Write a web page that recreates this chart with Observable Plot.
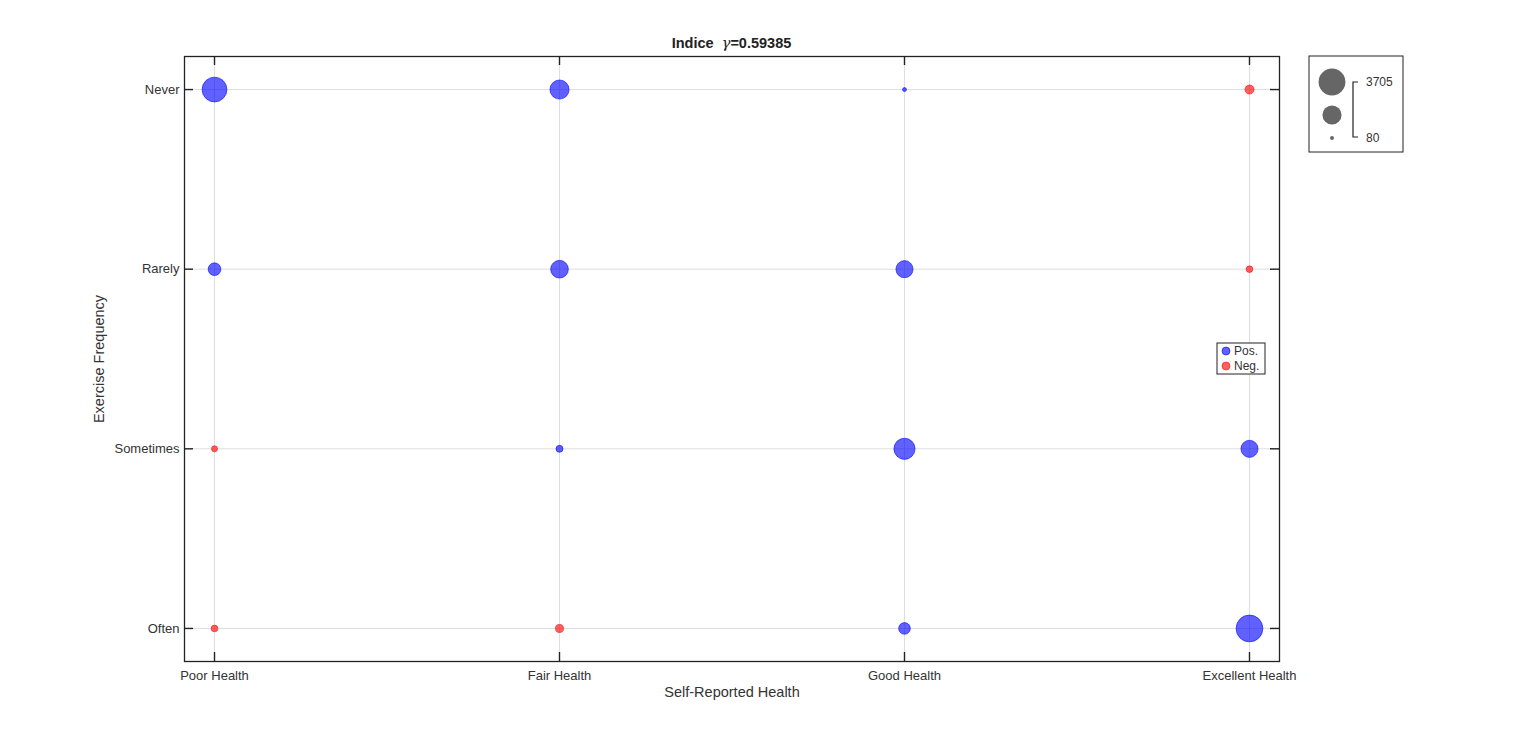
<!DOCTYPE html>
<html>
<head>
<meta charset="utf-8">
<script src="https://cdn.jsdelivr.net/npm/d3@7"></script>
<script src="https://cdn.jsdelivr.net/npm/@observablehq/plot@0.6"></script>
<style>
  html, body { margin: 0; padding: 0; background: #fff; }
  #chart svg { display: block; }
</style>
</head>
<body>
<div id="chart"></div>
<script>
// ---- data ----
const healthCats = ["Poor Health", "Fair Health", "Good Health", "Excellent Health"];
const exerciseCats = ["Never", "Rarely", "Sometimes", "Often"];
// counts, one row per exercise category, columns follow healthCats
const neverCounts     = [3170, 1890,   80,  424];
const rarelyCounts    = [ 831, 1622, 1513,  228];
const sometimesCounts = [ 188,  256, 2309, 1513];
const oftenCounts     = [ 228,  335,  705, 3705];
// sign of residual (Pos./Neg.)
const neverSigns     = ["Pos.", "Pos.", "Pos.", "Neg."];
const rarelySigns    = ["Pos.", "Pos.", "Pos.", "Neg."];
const sometimesSigns = ["Neg.", "Pos.", "Pos.", "Pos."];
const oftenSigns     = ["Neg.", "Neg.", "Pos.", "Pos."];
const legendSizes = [3705, 1892, 80];
const legendSizeLabels = ["3705", "80"];
const signCats = ["Pos.", "Neg."];
const titleText = ["Indice  ", "γ", "=0.59385"];

const rows = [
  [neverCounts, neverSigns],
  [rarelyCounts, rarelySigns],
  [sometimesCounts, sometimesSigns],
  [oftenCounts, oftenSigns]
];
const data = [];
rows.forEach(([counts, signs], i) => {
  counts.forEach((v, j) => data.push({health: healthCats[j], exercise: exerciseCats[i], value: v, sign: signs[j]}));
});

// ---- layout ----
const W = 1536, H = 744;
const mL = 184, mR = 257, mT = 56, mB = 83;
const fh = H - mT - mB;
const fw = W - mL - mR;
const tickLen = 9;
const font = "'Liberation Sans', Arial, Helvetica, sans-serif";
const fillColor = {"Pos.": "#0000ff", "Neg.": "#ff0000"};

const chart = Plot.plot({
  width: W, height: H,
  marginLeft: mL, marginRight: mR, marginTop: mT, marginBottom: mB,
  style: {fontFamily: font, fontSize: "13px", color: "#333", background: "#fff"},
  x: {type: "point", domain: healthCats, padding: 0.087, round: false},
  y: {type: "point", domain: exerciseCats, padding: 0.184, round: false},
  r: {type: "sqrt", domain: [0, 3705], range: [0, 13.4]},
  color: {domain: signCats, range: ["#0000ff", "#ff0000"]},
  marks: [
    // grid
    Plot.ruleX(healthCats, {x: d => d, stroke: "#dedede", strokeWidth: 1}),
    Plot.ruleY(exerciseCats, {y: d => d, stroke: "#dedede", strokeWidth: 1}),
    // inward ticks on all sides
    Plot.ruleX(healthCats, {x: d => d, insetBottom: fh - tickLen, stroke: "#222", strokeWidth: 1.4}),
    Plot.ruleX(healthCats, {x: d => d, insetTop: fh - tickLen, stroke: "#222", strokeWidth: 1.4}),
    Plot.ruleY(exerciseCats, {y: d => d, insetRight: fw - tickLen, stroke: "#222", strokeWidth: 1.4}),
    Plot.ruleY(exerciseCats, {y: d => d, insetLeft: fw - tickLen, stroke: "#222", strokeWidth: 1.4}),
    Plot.axisX({tickSize: 0, tickPadding: 9, label: null, fill: "#333", fontSize: 13}),
    Plot.axisY({tickSize: 0, tickPadding: 5, label: null, fill: "#333", fontSize: 13}),
    // bubbles
    Plot.dot(data, {
      x: "health", y: "exercise", r: "value",
      fill: "sign", fillOpacity: 0.62,
      stroke: "sign", strokeOpacity: 0.7, strokeWidth: 0.8
    }),
    Plot.frame({stroke: "#222", strokeWidth: 1.3}),
    // axis labels
    Plot.text(["Self-Reported Health"], {frameAnchor: "bottom", dy: 35, text: d => d, fontSize: 14.5, fill: "#333", textAnchor: "middle"}),
    Plot.text(["Exercise Frequency"], {frameAnchor: "left", dx: -85, rotate: -90, text: d => d, fontSize: 14.5, fill: "#333", textAnchor: "middle"})
  ]
});

document.getElementById("chart").appendChild(chart);

// ---- title and legends (drawn into the same svg) ----
const svg = d3.select(chart);
const rScale = chart.scale("r");
const frameRight = W - mR;

const title = svg.append("text")
  .attr("x", mL + fw / 2).attr("y", mT - 8)
  .attr("text-anchor", "middle")
  .attr("font-family", font).attr("font-size", 14.5).attr("fill", "#222");
title.append("tspan").attr("font-weight", "bold").attr("xml:space", "preserve").text(titleText[0]);
title.append("tspan").attr("font-style", "italic").attr("font-family", "'DejaVu Serif', serif").text(titleText[1]);
title.append("tspan").attr("font-weight", "bold").text(titleText[2]);

// size legend
const sl = svg.append("g").attr("transform", `translate(${frameRight + 30},${mT})`);
sl.append("rect").attr("x", 0).attr("y", 0).attr("width", 94).attr("height", 96)
  .attr("fill", "#fff").attr("stroke", "#222").attr("stroke-width", 1);
const cy = [26, 59, 82];
legendSizes.forEach((v, i) => {
  sl.append("circle").attr("cx", 23).attr("cy", cy[i]).attr("r", rScale.apply(v)).attr("fill", "#666");
});
sl.append("path").attr("d", "M49,26H44V81H49").attr("fill", "none").attr("stroke", "#222").attr("stroke-width", 1.2);
sl.append("text").attr("x", 57).attr("y", 26).attr("dy", "0.35em").attr("text-anchor", "start")
  .attr("font-family", font).attr("font-size", 12).attr("fill", "#333").text(legendSizeLabels[0]);
sl.append("text").attr("x", 57).attr("y", 82).attr("dy", "0.35em").attr("text-anchor", "start")
  .attr("font-family", font).attr("font-size", 12).attr("fill", "#333").text(legendSizeLabels[1]);

// sign legend
const cl = svg.append("g").attr("transform", `translate(${frameRight - 62},${mT + fh / 2 - 15.5})`);
cl.append("rect").attr("x", 0).attr("y", 0).attr("width", 48).attr("height", 31)
  .attr("fill", "#fff").attr("stroke", "#222").attr("stroke-width", 1);
signCats.forEach((s, i) => {
  cl.append("circle").attr("cx", 9).attr("cy", 8 + i * 15).attr("r", 4)
    .attr("fill", fillColor[s]).attr("fill-opacity", 0.62)
    .attr("stroke", fillColor[s]).attr("stroke-opacity", 0.7).attr("stroke-width", 0.8);
  cl.append("text").attr("x", 17).attr("y", 8 + i * 15).attr("dy", "0.35em").attr("text-anchor", "start")
    .attr("font-family", font).attr("font-size", 12).attr("fill", "#333").text(s);
});
</script>
</body>
</html>
